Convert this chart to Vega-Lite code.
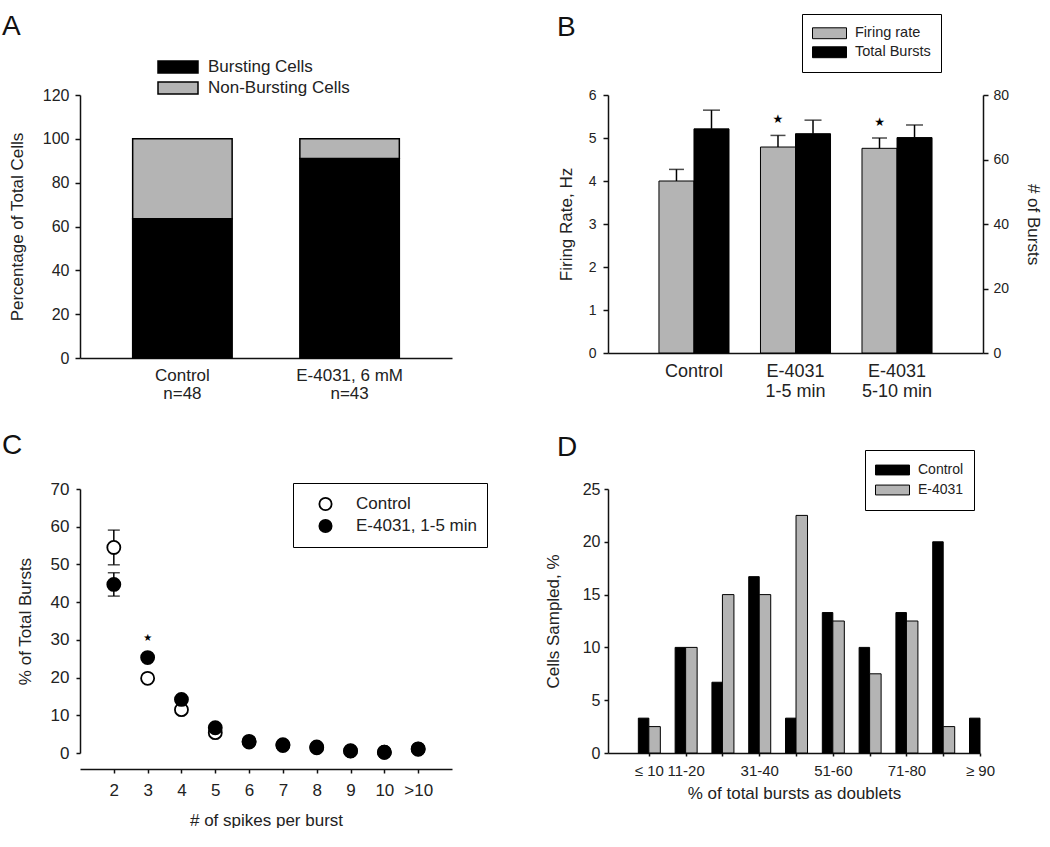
{
  "$schema": "https://vega.github.io/schema/vega-lite/v6.json",
  "background": "white",
  "padding": {"left": 2, "top": 12, "right": 0, "bottom": 0},
  "datasets": {
    "A": [
      {"cond": "Control", "type": "Bursting Cells", "pct": 63.5},
      {"cond": "Control", "type": "Non-Bursting Cells", "pct": 36.5},
      {"cond": "E-4031, 6 mM", "type": "Bursting Cells", "pct": 91},
      {"cond": "E-4031, 6 mM", "type": "Non-Bursting Cells", "pct": 9}
    ],
    "B": [
      {"cond": "Control", "measure": "Firing rate", "mean": 4.0, "upper": 4.27, "star": false},
      {"cond": "E-4031 1-5 min", "measure": "Firing rate", "mean": 4.79, "upper": 5.06, "star": true},
      {"cond": "E-4031 5-10 min", "measure": "Firing rate", "mean": 4.76, "upper": 5.0, "star": true},
      {"cond": "Control", "measure": "Total Bursts", "mean": 69.5, "upper": 75.3, "star": false},
      {"cond": "E-4031 1-5 min", "measure": "Total Bursts", "mean": 68.0, "upper": 72.2, "star": false},
      {"cond": "E-4031 5-10 min", "measure": "Total Bursts", "mean": 66.8, "upper": 70.7, "star": false}
    ],
    "C": [
      {"spikes": "2", "series": "Control", "pct": 54.5, "star": false},
      {"spikes": "3", "series": "Control", "pct": 19.8, "star": false},
      {"spikes": "4", "series": "Control", "pct": 11.5, "star": false},
      {"spikes": "5", "series": "Control", "pct": 5.4, "star": false},
      {"spikes": "6", "series": "Control", "pct": 2.9, "star": false},
      {"spikes": "7", "series": "Control", "pct": 2.0, "star": false},
      {"spikes": "8", "series": "Control", "pct": 1.4, "star": false},
      {"spikes": "9", "series": "Control", "pct": 0.5, "star": false},
      {"spikes": "10", "series": "Control", "pct": 0.2, "star": false},
      {"spikes": ">10", "series": "Control", "pct": 1.0, "star": false},
      {"spikes": "2", "series": "E-4031, 1-5 min", "pct": 44.7, "star": false},
      {"spikes": "3", "series": "E-4031, 1-5 min", "pct": 25.3, "star": true},
      {"spikes": "4", "series": "E-4031, 1-5 min", "pct": 14.2, "star": false},
      {"spikes": "5", "series": "E-4031, 1-5 min", "pct": 6.7, "star": false},
      {"spikes": "6", "series": "E-4031, 1-5 min", "pct": 3.1, "star": false},
      {"spikes": "7", "series": "E-4031, 1-5 min", "pct": 2.2, "star": false},
      {"spikes": "8", "series": "E-4031, 1-5 min", "pct": 1.6, "star": false},
      {"spikes": "9", "series": "E-4031, 1-5 min", "pct": 0.6, "star": false},
      {"spikes": "10", "series": "E-4031, 1-5 min", "pct": 0.2, "star": false},
      {"spikes": ">10", "series": "E-4031, 1-5 min", "pct": 1.1, "star": false}
    ],
    "Cerr": [
      {"spikes": "2", "series": "Control", "lo": 49.9, "hi": 59.1},
      {"spikes": "2", "series": "E-4031, 1-5 min", "lo": 41.6, "hi": 47.8}
    ],
    "D": [
      {"bin": "≤ 10", "series": "Control", "pct": 3.3},
      {"bin": "11-20", "series": "Control", "pct": 10},
      {"bin": "21-30", "series": "Control", "pct": 6.7},
      {"bin": "31-40", "series": "Control", "pct": 16.7},
      {"bin": "41-50", "series": "Control", "pct": 3.3},
      {"bin": "51-60", "series": "Control", "pct": 13.3},
      {"bin": "61-70", "series": "Control", "pct": 10},
      {"bin": "71-80", "series": "Control", "pct": 13.3},
      {"bin": "81-90", "series": "Control", "pct": 20},
      {"bin": "≥ 90", "series": "Control", "pct": 3.3},
      {"bin": "≤ 10", "series": "E-4031", "pct": 2.5},
      {"bin": "11-20", "series": "E-4031", "pct": 10},
      {"bin": "21-30", "series": "E-4031", "pct": 15},
      {"bin": "31-40", "series": "E-4031", "pct": 15},
      {"bin": "41-50", "series": "E-4031", "pct": 22.5},
      {"bin": "51-60", "series": "E-4031", "pct": 12.5},
      {"bin": "61-70", "series": "E-4031", "pct": 7.5},
      {"bin": "71-80", "series": "E-4031", "pct": 12.5},
      {"bin": "81-90", "series": "E-4031", "pct": 2.5}
    ]
  },
  "bounds": "flush",
  "spacing": 394,
  "resolve": {"scale": {"color": "independent", "fill": "independent"}, "legend": {"color": "independent", "fill": "independent"}},
  "vconcat": [
    {
      "bounds": "flush",
      "spacing": 156,
      "resolve": {"scale": {"color": "independent", "fill": "independent"}, "legend": {"color": "independent", "fill": "independent"}},
      "hconcat": [
        {
          "width": 372,
          "height": 263,
          "title": {"text": "A", "anchor": "start", "frame": "group", "fontSize": 28, "fontWeight": "normal", "color": "#111", "dx": -78, "dy": -16, "offset": 0},
          "data": {"name": "A"},
          "mark": {"type": "bar", "stroke": "black", "strokeWidth": 1.5},
          "encoding": {
            "x": {
              "field": "cond", "type": "nominal", "sort": null,
              "scale": {"paddingInner": 0.405, "paddingOuter": 0.315},
              "axis": {"title": null, "labelAngle": 0, "ticks": false, "labelFontSize": 17, "labelLineHeight": 18, "labelPadding": 9,
                "labelExpr": "datum.value == 'Control' ? ['Control', 'n=48'] : ['E-4031, 6 mM', 'n=43']"}
            },
            "y": {
              "field": "pct", "type": "quantitative", "stack": "zero",
              "scale": {"domain": [0, 120]},
              "axis": {"title": "Percentage of Total Cells", "values": [0, 20, 40, 60, 80, 100, 120], "tickSize": 5, "labelPadding": 6, "titlePadding": 16, "labelFontSize": 16, "titleFontSize": 17}
            },
            "order": {"field": "type", "type": "nominal", "sort": "ascending"},
            "color": {
              "field": "type", "type": "nominal",
              "scale": {"domain": ["Bursting Cells", "Non-Bursting Cells"], "range": ["black", "#b4b4b4"]},
              "legend": {"title": null, "orient": "none", "legendX": 77, "legendY": -38.5, "padding": 0, "symbolType": "M-1,-0.3H1V0.3H-1Z", "symbolSize": 1600, "clipHeight": 21, "rowPadding": 0, "labelFontSize": 17, "labelOffset": 9, "symbolStrokeColor": "black", "symbolStrokeWidth": 1.5}
            }
          }
        },
        {
          "width": 375,
          "height": 258,
          "title": {"text": "B", "anchor": "start", "frame": "group", "fontSize": 28, "fontWeight": "normal", "color": "#111", "dx": -51, "dy": 28, "offset": 0},
          "data": {"name": "B"},
          "encoding": {
            "x": {
              "field": "cond", "type": "nominal", "sort": null,
              "scale": {"paddingInner": 0.31, "paddingOuter": 0.502},
              "axis": {"title": null, "labelAngle": 0, "ticks": false, "labelFontSize": 18, "labelLineHeight": 20, "labelPadding": 9,
                "labelExpr": "datum.value == 'Control' ? 'Control' : ['E-4031', replace(datum.value, 'E-4031 ', '')]"}
            }
          },
          "layer": [
            {
              "transform": [{"filter": "datum.measure == 'Firing rate'"}],
              "layer": [
                {
                  "mark": {"type": "bar", "stroke": "black", "strokeWidth": 1},
                  "encoding": {
                    "xOffset": {"field": "measure", "type": "nominal", "scale": {"domain": ["Firing rate", "Total Bursts"], "paddingInner": 0, "paddingOuter": 0}},
                    "y": {"field": "mean", "type": "quantitative", "scale": {"domain": [0, 6]},
                      "axis": {"title": "Firing Rate, Hz", "values": [0, 1, 2, 3, 4, 5, 6], "tickSize": 5, "labelPadding": 7, "titlePadding": 13, "labelFontSize": 14, "titleFontSize": 17}},
                    "color": {"field": "measure", "type": "nominal", "scale": {"domain": ["Firing rate", "Total Bursts"], "range": ["#b4b4b4", "black"]},
                      "legend": {"title": null, "orient": "none", "legendX": 194, "legendY": -81, "strokeColor": "black", "padding": 10, "symbolType": "M-1,-0.32H1V0.32H-1Z", "symbolSize": 1156, "clipHeight": 18.5, "rowPadding": 0, "labelFontSize": 14.5, "labelOffset": 8, "symbolStrokeColor": "black", "symbolStrokeWidth": 1, "labelExpr": "datum.label + '\u00a0\u00a0\u00a0'"}}
                  }
                },
                {
                  "mark": {"type": "rule", "color": "black", "strokeWidth": 1.5},
                  "encoding": {
                    "xOffset": {"field": "measure", "type": "nominal", "scale": {"domain": ["Firing rate", "Total Bursts"], "paddingInner": 0, "paddingOuter": 0}},
                    "y": {"field": "mean", "type": "quantitative", "axis": {"title": "Firing Rate, Hz", "values": [0, 1, 2, 3, 4, 5, 6], "tickSize": 5, "labelPadding": 7, "titlePadding": 13, "labelFontSize": 14, "titleFontSize": 17}},
                    "y2": {"field": "upper"}
                  }
                },
                {
                  "mark": {"type": "tick", "color": "black", "thickness": 1.5, "size": 15},
                  "encoding": {
                    "xOffset": {"field": "measure", "type": "nominal", "scale": {"domain": ["Firing rate", "Total Bursts"], "paddingInner": 0, "paddingOuter": 0}},
                    "y": {"field": "upper", "type": "quantitative", "axis": {"title": "Firing Rate, Hz", "values": [0, 1, 2, 3, 4, 5, 6], "tickSize": 5, "labelPadding": 7, "titlePadding": 13, "labelFontSize": 14, "titleFontSize": 17}}
                  }
                },
                {
                  "transform": [{"filter": "datum.star"}],
                  "mark": {"type": "text", "text": "★", "font": "DejaVu Sans", "fontSize": 12, "dy": -16, "color": "black", "baseline": "middle"},
                  "encoding": {
                    "xOffset": {"field": "measure", "type": "nominal", "scale": {"domain": ["Firing rate", "Total Bursts"], "paddingInner": 0, "paddingOuter": 0}},
                    "y": {"field": "upper", "type": "quantitative", "axis": {"title": "Firing Rate, Hz", "values": [0, 1, 2, 3, 4, 5, 6], "tickSize": 5, "labelPadding": 7, "titlePadding": 13, "labelFontSize": 14, "titleFontSize": 17}}
                  }
                }
              ]
            },
            {
              "transform": [{"filter": "datum.measure == 'Total Bursts'"}],
              "layer": [
                {
                  "mark": {"type": "bar", "stroke": "black", "strokeWidth": 1},
                  "encoding": {
                    "xOffset": {"field": "measure", "type": "nominal", "scale": {"domain": ["Firing rate", "Total Bursts"], "paddingInner": 0, "paddingOuter": 0}},
                    "y": {"field": "mean", "type": "quantitative", "scale": {"domain": [0, 80]},
                      "axis": {"orient": "right", "title": "# of Bursts", "values": [0, 20, 40, 60, 80], "tickSize": 5, "labelPadding": 5, "titlePadding": 15, "labelFontSize": 14, "titleFontSize": 17}},
                    "color": {"field": "measure", "type": "nominal", "scale": {"domain": ["Firing rate", "Total Bursts"], "range": ["#b4b4b4", "black"]},
                      "legend": {"title": null, "orient": "none", "legendX": 194, "legendY": -81, "strokeColor": "black", "padding": 10, "symbolType": "M-1,-0.32H1V0.32H-1Z", "symbolSize": 1156, "clipHeight": 18.5, "rowPadding": 0, "labelFontSize": 14.5, "labelOffset": 8, "symbolStrokeColor": "black", "symbolStrokeWidth": 1, "labelExpr": "datum.label + '\u00a0\u00a0\u00a0'"}}
                  }
                },
                {
                  "mark": {"type": "rule", "color": "black", "strokeWidth": 1.5},
                  "encoding": {
                    "xOffset": {"field": "measure", "type": "nominal", "scale": {"domain": ["Firing rate", "Total Bursts"], "paddingInner": 0, "paddingOuter": 0}},
                    "y": {"field": "mean", "type": "quantitative", "axis": {"orient": "right", "title": "# of Bursts", "values": [0, 20, 40, 60, 80], "tickSize": 5, "labelPadding": 5, "titlePadding": 15, "labelFontSize": 14, "titleFontSize": 17}},
                    "y2": {"field": "upper"}
                  }
                },
                {
                  "mark": {"type": "tick", "color": "black", "thickness": 1.5, "size": 17},
                  "encoding": {
                    "xOffset": {"field": "measure", "type": "nominal", "scale": {"domain": ["Firing rate", "Total Bursts"], "paddingInner": 0, "paddingOuter": 0}},
                    "y": {"field": "upper", "type": "quantitative", "axis": {"orient": "right", "title": "# of Bursts", "values": [0, 20, 40, 60, 80], "tickSize": 5, "labelPadding": 5, "titlePadding": 15, "labelFontSize": 14, "titleFontSize": 17}}
                  }
                }
              ]
            }
          ],
          "resolve": {"scale": {"y": "independent"}, "axis": {"y": "independent"}}
        }
      ]
    },
    {
      "bounds": "flush",
      "spacing": 156,
      "resolve": {"scale": {"color": "independent", "fill": "independent"}, "legend": {"color": "independent", "fill": "independent"}},
      "hconcat": [
        {
          "width": 372,
          "height": 264,
          "title": {"text": "C", "anchor": "start", "frame": "group", "fontSize": 28, "fontWeight": "normal", "color": "#111", "dx": -78, "dy": -20, "offset": 0},
          "encoding": {
            "x": {
              "field": "spikes", "type": "ordinal",
              "scale": {"type": "point", "padding": 1.02, "domain": ["2", "3", "4", "5", "6", "7", "8", "9", "10", ">10"]},
              "axis": {"title": "# of spikes per burst", "labelAngle": 0, "offset": 16, "tickSize": 4, "labelPadding": 9, "titlePadding": 14, "labelFontSize": 17, "titleFontSize": 17}
            }
          },
          "layer": [
            {
              "data": {"name": "Cerr"},
              "mark": {"type": "rule", "color": "black", "strokeWidth": 1.5},
              "encoding": {
                "y": {"field": "lo", "type": "quantitative", "scale": {"domain": [0, 70]},
                  "axis": {"title": "% of Total Bursts", "values": [0, 10, 20, 30, 40, 50, 60, 70], "tickSize": 4, "labelPadding": 7, "titlePadding": 16, "labelFontSize": 17, "titleFontSize": 17}},
                "y2": {"field": "hi"}
              }
            },
            {
              "data": {"name": "Cerr"},
              "mark": {"type": "tick", "color": "black", "thickness": 1.5, "size": 12},
              "encoding": {
                "y": {"field": "lo", "type": "quantitative", "axis": {"title": "% of Total Bursts", "values": [0, 10, 20, 30, 40, 50, 60, 70], "tickSize": 4, "labelPadding": 7, "titlePadding": 16, "labelFontSize": 17, "titleFontSize": 17}}
              }
            },
            {
              "data": {"name": "Cerr"},
              "mark": {"type": "tick", "color": "black", "thickness": 1.5, "size": 12},
              "encoding": {
                "y": {"field": "hi", "type": "quantitative", "axis": {"title": "% of Total Bursts", "values": [0, 10, 20, 30, 40, 50, 60, 70], "tickSize": 4, "labelPadding": 7, "titlePadding": 16, "labelFontSize": 17, "titleFontSize": 17}}
              }
            },
            {
              "data": {"name": "C"},
              "mark": {"type": "point", "filled": true, "stroke": "black", "strokeWidth": 1.8, "size": 170, "opacity": 1},
              "encoding": {
                "y": {"field": "pct", "type": "quantitative", "axis": {"title": "% of Total Bursts", "values": [0, 10, 20, 30, 40, 50, 60, 70], "tickSize": 4, "labelPadding": 7, "titlePadding": 16, "labelFontSize": 17, "titleFontSize": 17}},
                "fill": {"field": "series", "type": "nominal", "scale": {"domain": ["Control", "E-4031, 1-5 min"], "range": ["white", "black"]},
                  "legend": {"title": null, "orient": "none", "legendX": 213, "legendY": -6, "strokeColor": "black", "padding": 10, "symbolType": "circle", "symbolSize": 150, "symbolStrokeColor": "black", "symbolStrokeWidth": 1.8, "clipHeight": 22, "rowPadding": 0, "labelFontSize": 17, "labelOffset": 22, "symbolOffset": 14}}
              }
            },
            {
              "data": {"name": "C"},
              "transform": [{"filter": "datum.star"}],
              "mark": {"type": "text", "text": "★", "font": "DejaVu Sans", "fontSize": 10, "dy": -20, "color": "black", "baseline": "middle"},
              "encoding": {
                "y": {"field": "pct", "type": "quantitative", "axis": {"title": "% of Total Bursts", "values": [0, 10, 20, 30, 40, 50, 60, 70], "tickSize": 4, "labelPadding": 7, "titlePadding": 16, "labelFontSize": 17, "titleFontSize": 17}}
              }
            }
          ]
        },
        {
          "width": 372,
          "height": 264,
          "title": {"text": "D", "anchor": "start", "frame": "group", "fontSize": 28, "fontWeight": "normal", "color": "#111", "dx": -51, "dy": 12, "offset": 0},
          "data": {"name": "D"},
          "encoding": {
            "x": {
              "field": "bin", "type": "ordinal",
              "scale": {"type": "point", "padding": 0.555, "align": 1, "domain": ["≤ 10", "11-20", "21-30", "31-40", "41-50", "51-60", "61-70", "71-80", "81-90", "≥ 90"]},
              "axis": {"title": "% of total bursts as doublets", "labelAngle": 0, "tickSize": 3, "labelPadding": 7, "titlePadding": 7, "labelFontSize": 15, "titleFontSize": 17, "labelOverlap": false,
                "labelExpr": "indexof(['21-30','41-50','61-70','81-90'], datum.value) >= 0 ? '' : datum.value"}
            },
            "y": {"field": "pct", "type": "quantitative", "scale": {"domain": [0, 25]},
              "axis": {"title": "Cells Sampled, %", "values": [0, 5, 10, 15, 20, 25], "tickSize": 4, "labelPadding": 4, "titlePadding": 20, "labelFontSize": 16, "titleFontSize": 17}},
            "color": {"field": "series", "type": "nominal", "scale": {"domain": ["Control", "E-4031"], "range": ["black", "#b4b4b4"]},
              "legend": {"title": null, "orient": "none", "legendX": 257, "legendY": -39, "strokeColor": "black", "padding": 10, "symbolType": "M-1,-0.29H1V0.29H-1Z", "symbolSize": 1156, "clipHeight": 20, "rowPadding": 0, "labelFontSize": 14, "labelOffset": 8, "symbolStrokeColor": "black", "symbolStrokeWidth": 1, "labelExpr": "datum.label + '\u00a0\u00a0\u00a0\u00a0'"}}
          },
          "layer": [
            {"transform": [{"filter": "datum.series == 'Control'"}], "mark": {"type": "bar", "width": 10.5, "xOffset": -5.25, "stroke": "black", "strokeWidth": 1}},
            {"transform": [{"filter": "datum.series == 'E-4031'"}], "mark": {"type": "bar", "width": 11.5, "xOffset": 5.75, "stroke": "black", "strokeWidth": 1}}
          ]
        }
      ]
    }
  ],
  "config": {
    "view": {"stroke": null},
    "font": "Liberation Sans",
    "title": {"font": "Liberation Sans"},
    "axis": {"grid": false, "domainColor": "#111", "tickColor": "#111", "domainWidth": 1.5, "tickWidth": 1.5, "labelColor": "#222", "titleColor": "#222", "titleFontWeight": "normal", "labelFont": "Liberation Sans", "titleFont": "Liberation Sans"},
    "legend": {"labelColor": "#222", "labelFont": "Liberation Sans"}
  }
}
